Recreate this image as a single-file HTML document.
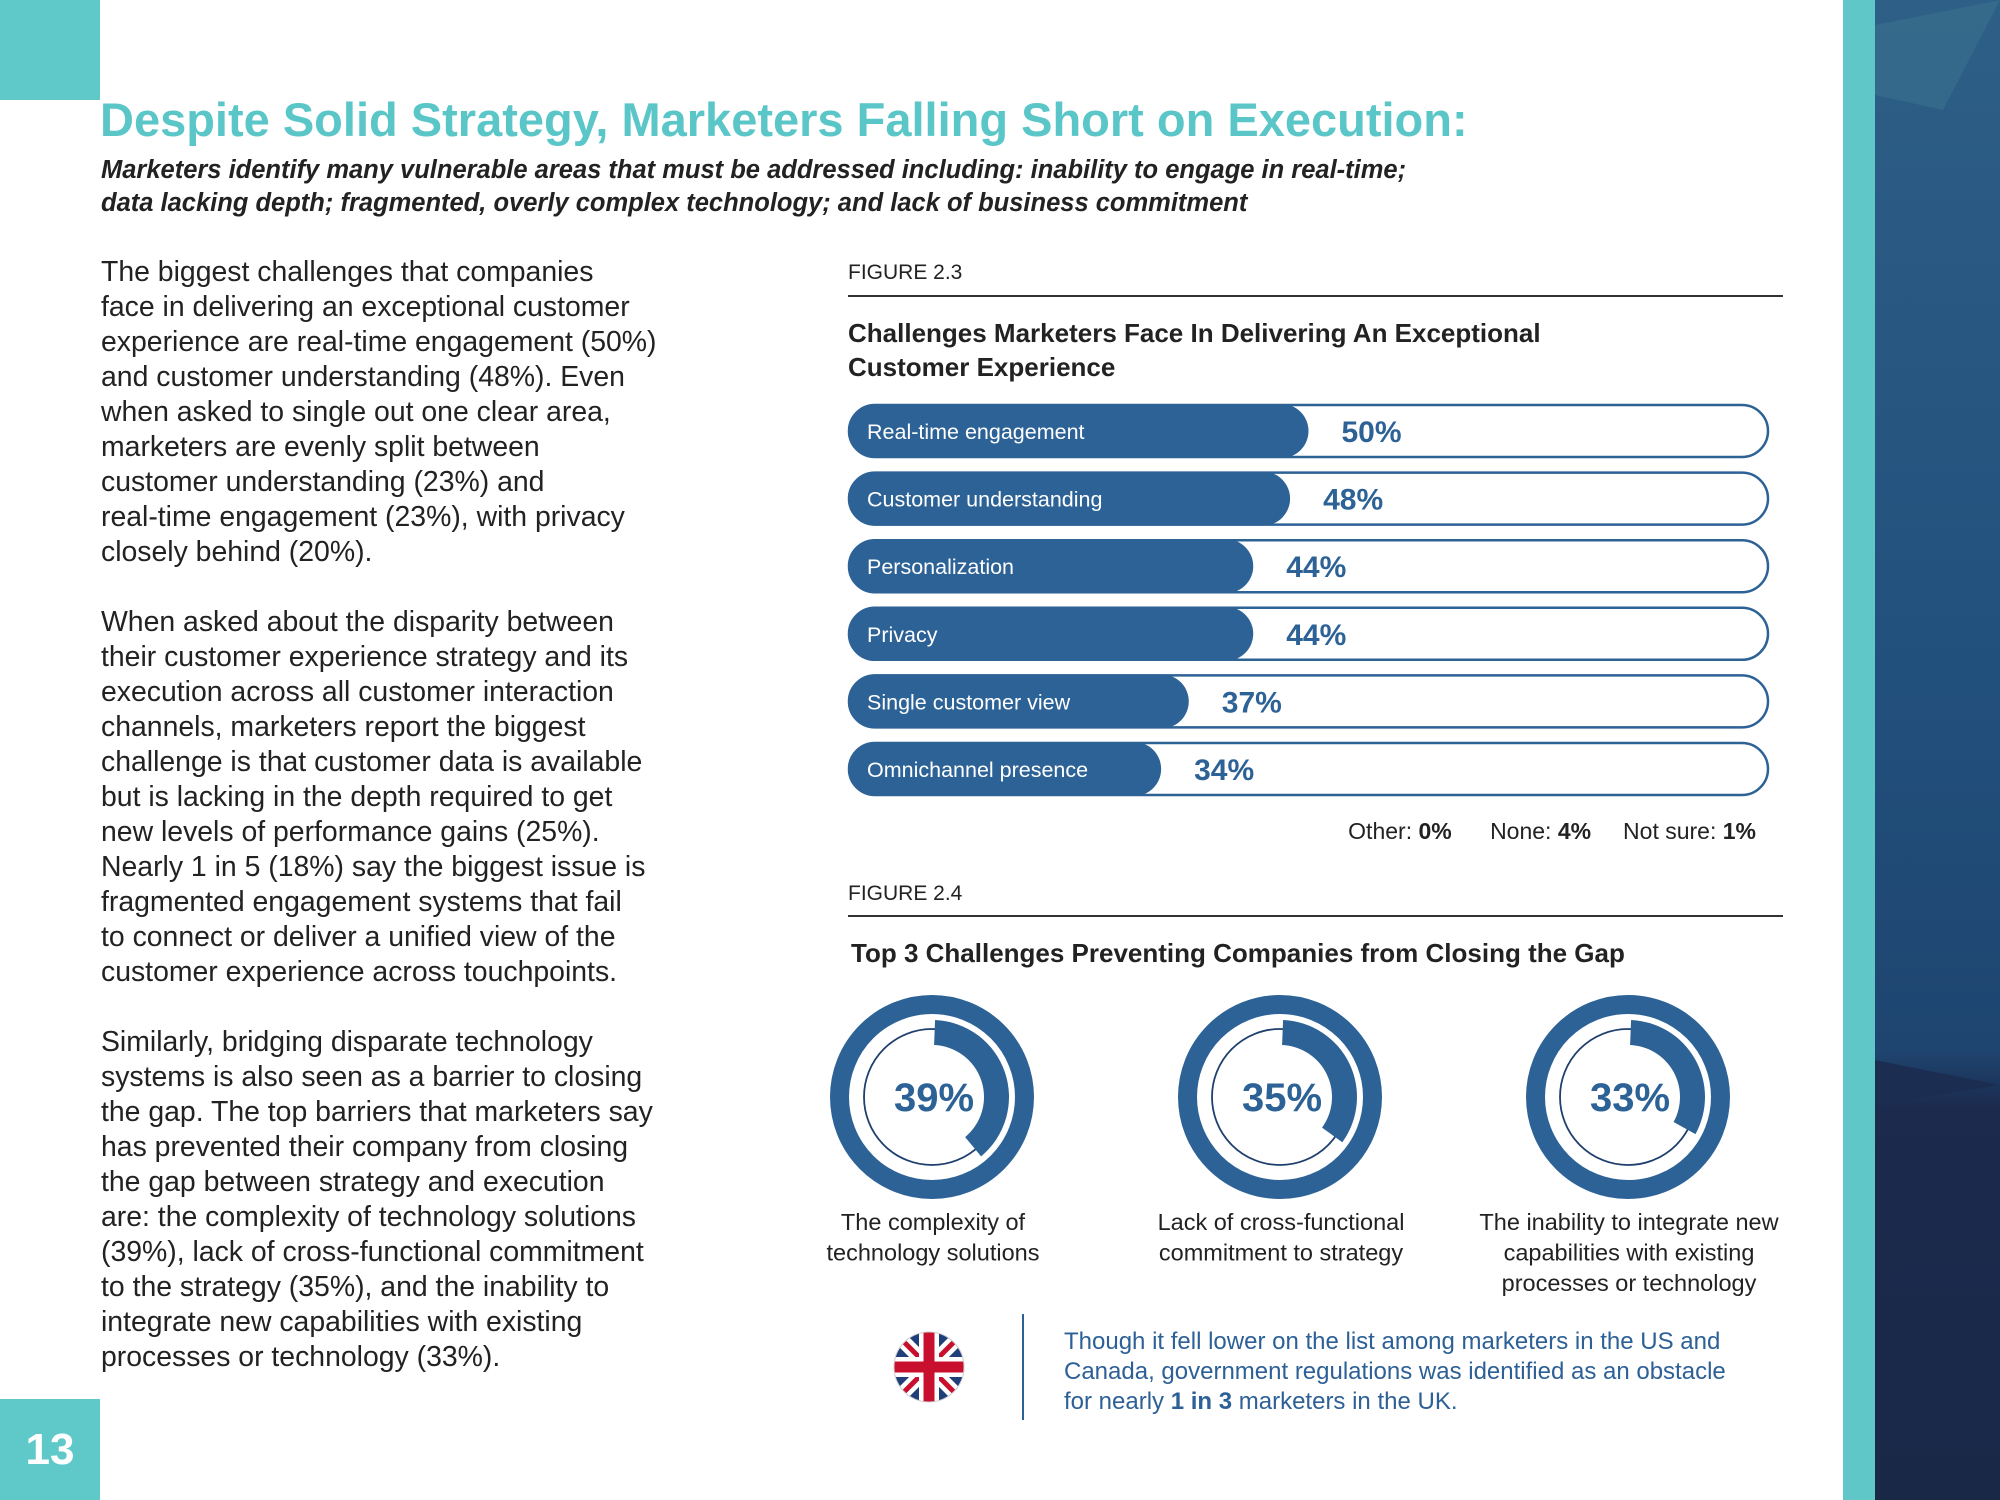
<!DOCTYPE html>
<html><head><meta charset="utf-8">
<style>
html,body{margin:0;padding:0}
body{width:2000px;height:1500px;position:relative;overflow:hidden;background:#fff;font-family:"Liberation Sans",sans-serif;color:#222}
.abs{position:absolute}
.body-text{left:101px;top:255px;font-size:28.4px;line-height:35px;white-space:nowrap;color:#222}
</style></head>
<body>
<div class="abs" style="left:0;top:0;width:100px;height:100px;background:#5fc8c9"></div>
<div class="abs" style="left:0;top:1399px;width:100px;height:101px;background:#5fc8c9;color:#fff;font-size:44px;font-weight:bold;line-height:101px;text-align:center">13</div>

<svg class="abs" style="left:1843px;top:0" width="157" height="1500">
<defs><linearGradient id="g" x1="0" y1="0" x2="0" y2="1"><stop offset="0" stop-color="#2e5f86"/><stop offset="0.45" stop-color="#22507d"/><stop offset="0.7" stop-color="#1e4570"/><stop offset="0.74" stop-color="#1b2a4d"/><stop offset="1" stop-color="#1a2848"/></linearGradient></defs>
<rect x="0" y="0" width="32" height="1500" fill="#60c7c8"/>
<rect x="32" y="0" width="125" height="1500" fill="url(#g)"/>
<polygon points="32,25 157,0 100,110 32,95" fill="#3a7290" opacity="0.6"/>
<polygon points="32,1060 157,1085 32,1105" fill="#1c2d52"/>
</svg>

<div class="abs" style="left:100px;top:92px;font-size:47px;font-weight:bold;color:#5bc6c8;white-space:nowrap">Despite Solid Strategy, Marketers Falling Short on Execution:</div>
<div class="abs" style="left:101px;top:154px;font-size:25.5px;line-height:33px;font-style:italic;font-weight:bold;color:#222;white-space:nowrap">Marketers identify many vulnerable areas that must be addressed including: inability to engage in real-time;<br>data lacking depth; fragmented, overly complex technology; and lack of business commitment</div>

<div class="abs body-text">The biggest challenges that companies<br>face in delivering an exceptional customer<br>experience are real-time engagement (50%)<br>and customer understanding (48%). Even<br>when asked to single out one clear area,<br>marketers are evenly split between<br>customer understanding (23%) and<br>real-time engagement (23%), with privacy<br>closely behind (20%).<br><br>When asked about the disparity between<br>their customer experience strategy and its<br>execution across all customer interaction<br>channels, marketers report the biggest<br>challenge is that customer data is available<br>but is lacking in the depth required to get<br>new levels of performance gains (25%).<br>Nearly 1 in 5 (18%) say the biggest issue is<br>fragmented engagement systems that fail<br>to connect or deliver a unified view of the<br>customer experience across touchpoints.<br><br>Similarly, bridging disparate technology<br>systems is also seen as a barrier to closing<br>the gap. The top barriers that marketers say<br>has prevented their company from closing<br>the gap between strategy and execution<br>are: the complexity of technology solutions<br>(39%), lack of cross-functional commitment<br>to the strategy (35%), and the inability to<br>integrate new capabilities with existing<br>processes or technology (33%).</div>

<div class="abs" style="left:848px;top:261px;font-size:21px;color:#222">FIGURE 2.3</div>
<div class="abs" style="left:848px;top:295px;width:935px;height:2px;background:#333"></div>
<div class="abs" style="left:848px;top:316px;font-size:26px;line-height:34px;font-weight:bold;color:#222">Challenges Marketers Face In Delivering An Exceptional<br>Customer Experience</div>

<svg class="abs" id="bars" style="left:0;top:0" width="2000" height="1500"></svg>

<div class="abs" style="right:244px;top:818px;font-size:23px;white-space:nowrap;color:#222">Other: <b>0%</b>&nbsp;&nbsp;&nbsp;&nbsp;&nbsp;&nbsp;None: <b>4%</b>&nbsp;&nbsp;&nbsp;&nbsp;&nbsp;Not sure: <b>1%</b></div>

<div class="abs" style="left:848px;top:882px;font-size:21px;color:#222">FIGURE 2.4</div>
<div class="abs" style="left:848px;top:915px;width:935px;height:2px;background:#333"></div>
<div class="abs" style="left:851px;top:938px;font-size:26px;font-weight:bold;color:#222;white-space:nowrap">Top 3 Challenges Preventing Companies from Closing the Gap</div>

<svg class="abs" id="donuts" style="left:0;top:0" width="2000" height="1500"></svg>

<svg class="abs" style="left:893px;top:1331px" width="72" height="72" viewBox="0 0 72 72">
<defs><clipPath id="c"><circle cx="36" cy="36" r="35"/></clipPath></defs>
<g clip-path="url(#c)"><rect width="72" height="72" fill="#1f3f7a"/>
<path d="M0,0 L72,72 M72,0 L0,72" stroke="#fff" stroke-width="14"/>
<path d="M0,0 L72,72 M72,0 L0,72" stroke="#c8102e" stroke-width="5"/>
<path d="M36,0 V72 M0,36 H72" stroke="#fff" stroke-width="20"/>
<path d="M36,0 V72 M0,36 H72" stroke="#c8102e" stroke-width="11"/></g>
<circle cx="36" cy="36" r="35" fill="none" stroke="#ccc" stroke-width="1"/>
</svg>
<div class="abs" style="left:1022px;top:1314px;width:2px;height:106px;background:#2d6096"></div>
<div class="abs" style="left:1064px;top:1327px;font-size:24px;line-height:30px;color:#2d6096;white-space:nowrap">Though it fell lower on the list among marketers in the US and<br>Canada, government regulations was identified as an obstacle<br>for nearly <b>1 in 3</b> marketers in the UK.</div>

<script>
const categories=["Real-time engagement","Customer understanding","Personalization","Privacy","Single customer view","Omnichannel presence"];
const values=[50,48,44,44,37,34];
const donutValues=[39,35,33];
const donutCaptions=[["The complexity of","technology solutions"],["Lack of cross-functional","commitment to strategy"],["The inability to integrate new","capabilities with existing","processes or technology"]];
const NS="http://www.w3.org/2000/svg";
const C="#2d6296";
function mk(p,t,a){const e=document.createElementNS(NS,t);for(const k in a)e.setAttribute(k,a[k]);p.appendChild(e);return e;}
const x0=848,x1=1769,h=54;
const xs=v=>x0+(x1-x0)*v/100;
const ys=i=>431+i*67.6;
const bars=document.getElementById('bars');
categories.forEach((c,i)=>{
 const y=ys(i)-h/2;
 const o=mk(bars,'rect',{x:x0+1,y:y+1,width:x1-x0-2,height:h-2,rx:(h-2)/2,fill:'#fff',stroke:C,'stroke-width':2.5});
 
 
 const f=mk(bars,'rect',{x:x0,y:y,width:xs(values[i])-x0,height:h,rx:h/2,fill:C});
 
 
 const l=mk(bars,'text',{x:x0+19,y:ys(i)+8,fill:'#fff','font-size':21.5,'font-family':'Liberation Sans, sans-serif'});
 l.textContent=c;
 
 
 const v=mk(bars,'text',{x:xs(values[i])+33,y:ys(i)+11,fill:C,'font-size':30,'font-weight':'bold','font-family':'Liberation Sans, sans-serif'});
 v.textContent=values[i]+'%';
 
 
});
const dn=document.getElementById('donuts');
const cxs=[932,1280,1628],cy=1097;
donutValues.forEach((p,i)=>{
 const cx=cxs[i];
 const r=mk(dn,'circle',{cx:cx,cy:cy,r:92.5,fill:'none',stroke:C,'stroke-width':19});
 
 
 const t=mk(dn,'circle',{cx:cx,cy:cy,r:68,fill:'none',stroke:'#1f3f6e','stroke-width':1.8});
 
 
 const a=p/100*2*Math.PI,r1=52,r2=77;
 const a0=0.04;
 const p0=[Math.sin(a0),-Math.cos(a0)];
 const sx=Math.sin(a),sy=-Math.cos(a),lg=(a-a0)>Math.PI?1:0;
 const d=`M${cx+r2*p0[0]},${cy+r2*p0[1]} A${r2},${r2} 0 ${lg} 1 ${cx+r2*sx},${cy+r2*sy} L${cx+r1*sx},${cy+r1*sy} A${r1},${r1} 0 ${lg} 0 ${cx+r1*p0[0]},${cy+r1*p0[1]} Z`;
 const arc=mk(dn,'path',{d:d,fill:C});
 
 
 const tx=mk(dn,'text',{x:cx+2,y:cy+14,'text-anchor':'middle',fill:C,'font-size':40,'font-weight':'bold','font-family':'Liberation Sans, sans-serif'});
 tx.textContent=p+'%';
 
 
 donutCaptions[i].forEach((s,j)=>{
  const ct=mk(dn,'text',{x:cx+1,y:1230+j*30.5,'text-anchor':'middle',fill:'#222','font-size':23.5,'font-family':'Liberation Sans, sans-serif'});
  ct.textContent=s;
  
  
 });
});
</script>
</body></html>
